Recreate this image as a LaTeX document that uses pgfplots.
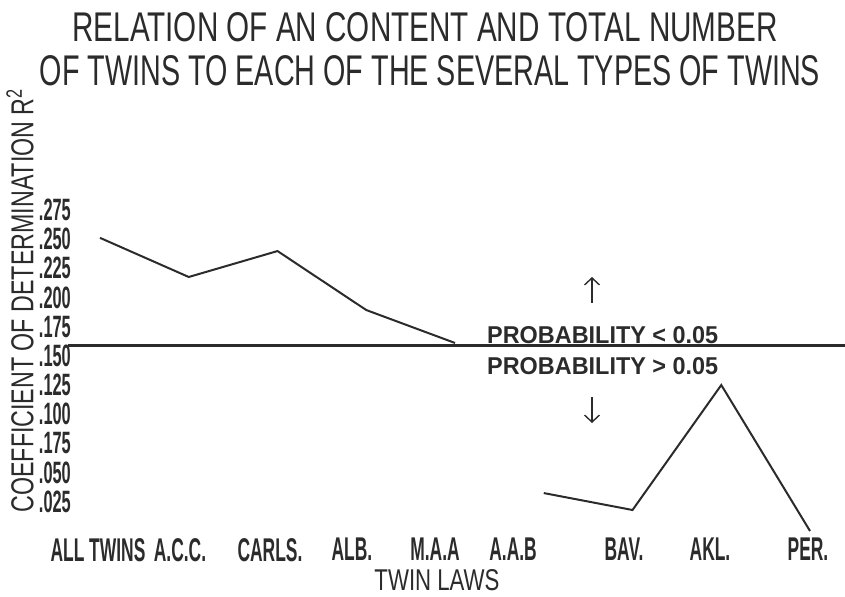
\documentclass[border=0pt]{standalone}
\usepackage{pgfplots}
\pgfplotsset{compat=1.18}
\usepackage{graphicx}
\usepackage{fontspec}
\usetikzlibrary{arrows.meta}
\setmainfont{Liberation Sans}
\newfontfamily\hand[FakeStretch=0.62]{Liberation Sans}
\newfontfamily\handtick[FakeStretch=0.53]{Liberation Sans}
\definecolor{ink}{HTML}{2B2B2B}

\begin{document}
\begin{tikzpicture}
\useasboundingbox (0,0) rectangle (845bp,-597bp);
\begin{axis}[
    at={(68.05bp,-542.7bp)}, anchor=south west,
    scale only axis, width=776.6bp, height=350.4bp,
    xmin=-0.36, xmax=8.39, ymin=-0.01, ymax=0.29,
    clip=false,
    axis x line*=bottom, axis y line*=left,
    axis line style={draw=none},
    major tick length=0pt,
    scaled ticks=false,
    xtick={-0.023,0.901,1.915,2.839,3.775,4.654,5.904,6.873,7.977},
    xticklabels={ALL TWINS, A.C.C., CARLS., ALB., M.A.A, A.A.B, BAV., AKL., PER.},
    xticklabel style={anchor=north, inner sep=0pt, yshift=4.7bp,
        font=\handtick\bfseries\fontsize{33}{33}\selectfont, text=ink},
    ytick={0.025,0.05,0.075,0.1,0.125,0.15,0.175,0.2,0.225,0.25,0.275},
    yticklabels={.025,.050,.175,.100,.125,.150,.175,.200,.225,.250,.275},
    yticklabel style={anchor=east, inner sep=0pt, xshift=3bp,
        font=\handtick\bfseries\fontsize{31}{31}\selectfont, text=ink},
  ]
  % significance threshold
  \addplot[ink, line width=2.4bp] coordinates {(-0.36,0.159) (8.39,0.159)};
  % R^2 by twin law, significant
  \addplot[ink, line width=2bp] coordinates {
    (0,0.251) (1,0.2175) (2,0.2397) (3,0.1892) (4,0.161)};
  % not significant
  \addplot[ink, line width=2bp] coordinates {
    (5,0.0325) (6,0.018) (7,0.125) (8,0.0)};
\end{axis}
\begin{scope}[x=1bp, y=-1bp, text=ink]
  \node[anchor=north, inner sep=0pt] at (425,12)
    {\resizebox{705bp}{29bp}{\hand RELATION OF AN CONTENT AND TOTAL NUMBER}};
  \node[anchor=north, inner sep=0pt] at (430,55)
    {\resizebox{780bp}{30bp}{\hand OF TWINS TO EACH OF THE SEVERAL TYPES OF TWINS}};
  \node[inner sep=0pt, rotate=90] at (20,300)
    {\resizebox{425bp}{27bp}{\hand COEFFICIENT OF DETERMINATION R\textsuperscript{2}}};
  \node[anchor=north, inner sep=0pt] at (437,569)
    {\resizebox{125bp}{21bp}{\hand TWIN LAWS}};
  \node[anchor=north west, inner sep=0pt] at (487,326)
    {\resizebox{231bp}{17bp}{\bfseries PROBABILITY < 0.05}};
  \node[anchor=north west, inner sep=0pt] at (487,357)
    {\resizebox{231bp}{17bp}{\bfseries PROBABILITY > 0.05}};
  \draw[ink, line width=1.4bp, -{Straight Barb[length=7bp,width=15bp]}] (592,303) -- (592,277);
  \draw[ink, line width=1.4bp, -{Straight Barb[length=7bp,width=15bp]}] (592,397) -- (592,423);
\end{scope}
\end{tikzpicture}
\end{document}
